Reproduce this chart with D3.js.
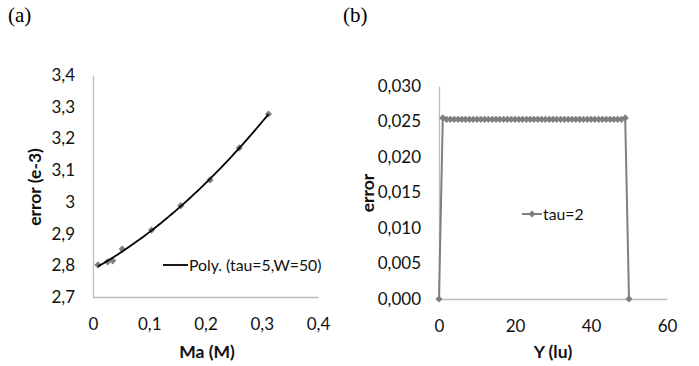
<!DOCTYPE html>
<html><head><meta charset="utf-8">
<script src="https://cdn.jsdelivr.net/npm/d3@7"></script>
<style>
body{margin:0;background:#fff;}
svg{display:block;}
text{font-family:Lato,"Open Sans",sans-serif;}
</style></head>
<body><svg id="c" width="699" height="366"></svg>
<script>
// ---- Panel (a) data ----
const maValues = [0.0087, 0.026, 0.035, 0.052, 0.104, 0.156, 0.208, 0.260, 0.312];
const errValues = [2.801, 2.811, 2.814, 2.851, 2.911, 2.988, 3.069, 3.170, 3.277];
const xTicksA = [0, 0.1, 0.2, 0.3, 0.4];
const xTickLabelsA = ["0", "0,1", "0,2", "0,3", "0,4"];
const yTicksA = [2.7, 2.8, 2.9, 3.0, 3.1, 3.2, 3.3, 3.4];
const yTickLabelsA = ["2,7", "2,8", "2,9", "3", "3,1", "3,2", "3,3", "3,4"];
const legendA = "Poly. (tau=5,W=50)";

// ---- Panel (b) data ----
const yPos = [0,1,2,3,4,5,6,7,8,9,10,11,12,13,14,15,16,17,18,19,20,21,22,23,24,25,26,27,28,29,30,31,32,33,34,35,36,37,38,39,40,41,42,43,44,45,46,47,48,49,50];
const errB = [0,0.0255,0.0253,0.0253,0.0253,0.0253,0.0253,0.0253,0.0253,0.0253,0.0253,0.0253,0.0253,0.0253,0.0253,0.0253,0.0253,0.0253,0.0253,0.0253,0.0253,0.0253,0.0253,0.0253,0.0253,0.0253,0.0253,0.0253,0.0253,0.0253,0.0253,0.0253,0.0253,0.0253,0.0253,0.0253,0.0253,0.0253,0.0253,0.0253,0.0253,0.0253,0.0253,0.0253,0.0253,0.0253,0.0253,0.0253,0.0253,0.0255,0];
const xTicksB = [0, 20, 40, 60];
const xTickLabelsB = ["0", "20", "40", "60"];
const yTicksB = [0, 0.005, 0.010, 0.015, 0.020, 0.025, 0.030];
const yTickLabelsB = ["0,000", "0,005", "0,010", "0,015", "0,020", "0,025", "0,030"];
const legendB = "tau=2";

const svg = d3.select("#c");
const gray = "#7f7f7f";
const axisCol = "#bdbdbd";
const diamond = d3.symbol().type(d3.symbolSquare).size(26);

// panel labels
svg.append("text").attr("x", 8).attr("y", 22).text("(a)")
  .style("font-family", "'Liberation Serif','DejaVu Serif',serif").style("font-size", "21px");
svg.append("text").attr("x", 343).attr("y", 22).text("(b)")
  .style("font-family", "'Liberation Serif','DejaVu Serif',serif").style("font-size", "21px");

function drawAxes(g, x, y, xt, xl, yt, yl) {
  const ax = g.append("g").attr("transform", `translate(0,${y.range()[0]})`)
    .call(d3.axisBottom(x).tickValues(xt).tickSize(0).tickPadding(21)
      .tickFormat((d, i) => xl[i]));
  const ay = g.append("g").attr("transform", `translate(${x.range()[0]},0)`)
    .call(d3.axisLeft(y).tickValues(yt).tickSize(0).tickPadding(18)
      .tickFormat((d, i) => yl[i]));
  [ax, ay].forEach(a => {
    a.select(".domain").attr("stroke", axisCol).attr("stroke-width", 1.3);
    a.selectAll("text").style("font-family", "Lato, sans-serif").style("font-size", "17px").attr("fill", "#111");
  });
}

// ---------- Panel (a) ----------
const xA = d3.scaleLinear().domain([0, 0.4]).range([93, 318]);
const yA = d3.scaleLinear().domain([2.7, 3.4]).range([297, 75]);
const gA = svg.append("g");
drawAxes(gA, xA, yA, xTicksA, xTickLabelsA, yTicksA, yTickLabelsA);

gA.selectAll("path.pt").data(maValues).join("path")
  .attr("d", diamond)
  .attr("transform", (d, i) => `translate(${xA(d)},${yA(errValues[i])}) rotate(45)`)
  .attr("fill", gray);

// quadratic least-squares trendline from the data
(function () {
  let S = [0, 0, 0, 0, 0], T = [0, 0, 0];
  maValues.forEach((xv, i) => {
    const yv = errValues[i];
    for (let k = 0; k < 5; k++) S[k] += Math.pow(xv, k);
    for (let k = 0; k < 3; k++) T[k] += yv * Math.pow(xv, k);
  });
  const M = [[S[0], S[1], S[2], T[0]], [S[1], S[2], S[3], T[1]], [S[2], S[3], S[4], T[2]]];
  for (let c = 0; c < 3; c++) {
    for (let r = c + 1; r < 3; r++) {
      const f = M[r][c] / M[c][c];
      for (let k = c; k < 4; k++) M[r][k] -= f * M[c][k];
    }
  }
  const co = [0, 0, 0];
  for (let r = 2; r >= 0; r--) {
    let s = M[r][3];
    for (let k = r + 1; k < 3; k++) s -= M[r][k] * co[k];
    co[r] = s / M[r][r];
  }
  const x0 = d3.min(maValues), x1 = d3.max(maValues);
  const pts = d3.range(0, 61).map(j => { const xv = x0 + (x1 - x0) * j / 60; return [xv, co[0] + co[1] * xv + co[2] * xv * xv]; });
  gA.append("path").datum(pts)
    .attr("d", d3.line().x(d => xA(d[0])).y(d => yA(d[1])))
    .attr("fill", "none").attr("stroke", "#000").attr("stroke-width", 1.8);
})();

gA.append("line").attr("x1", 163).attr("x2", 188).attr("y1", 265).attr("y2", 265)
  .attr("stroke", "#000").attr("stroke-width", 1.8);
gA.append("text").attr("x", 189).attr("y", 265).attr("dy", "0.35em").text(legendA)
  .style("font-size", "15.8px").attr("fill", "#111");

gA.append("text").attr("transform", "translate(41,187) rotate(-90)")
  .attr("text-anchor", "middle").text("error (e-3)")
  .style("font-size", "17.5px").style("font-weight", "bold").attr("fill", "#111");
gA.append("text").attr("x", 207).attr("y", 358)
  .attr("text-anchor", "middle").text("Ma (M)")
  .style("font-size", "17.5px").style("font-weight", "bold").attr("fill", "#111");

// ---------- Panel (b) ----------
const xB = d3.scaleLinear().domain([0, 60]).range([439, 667]);
const yB = d3.scaleLinear().domain([0, 0.030]).range([299, 86]);
const gB = svg.append("g");
drawAxes(gB, xB, yB, xTicksB, xTickLabelsB, yTicksB, yTickLabelsB);

gB.append("path").datum(yPos)
  .attr("d", d3.line().x(d => xB(d)).y((d, i) => yB(errB[i])))
  .attr("fill", "none").attr("stroke", gray).attr("stroke-width", 2);
gB.selectAll("path.pt").data(yPos).join("path")
  .attr("d", diamond)
  .attr("transform", (d, i) => `translate(${xB(d)},${yB(errB[i])}) rotate(45)`)
  .attr("fill", gray);

gB.append("line").attr("x1", 522).attr("x2", 542).attr("y1", 214).attr("y2", 214)
  .attr("stroke", gray).attr("stroke-width", 2);
gB.append("path").attr("d", diamond).attr("transform", "translate(532,214) rotate(45)").attr("fill", gray);
gB.append("text").attr("x", 543).attr("y", 214).attr("dy", "0.35em").text(legendB)
  .style("font-size", "15.8px").attr("fill", "#111");

gB.append("text").attr("transform", "translate(374,193) rotate(-90)")
  .attr("text-anchor", "middle").text("error")
  .style("font-size", "17.5px").style("font-weight", "bold").attr("fill", "#111");
gB.append("text").attr("x", 553).attr("y", 358)
  .attr("text-anchor", "middle").text("Y (lu)")
  .style("font-size", "17.5px").style("font-weight", "bold").attr("fill", "#111");
</script></body></html>
